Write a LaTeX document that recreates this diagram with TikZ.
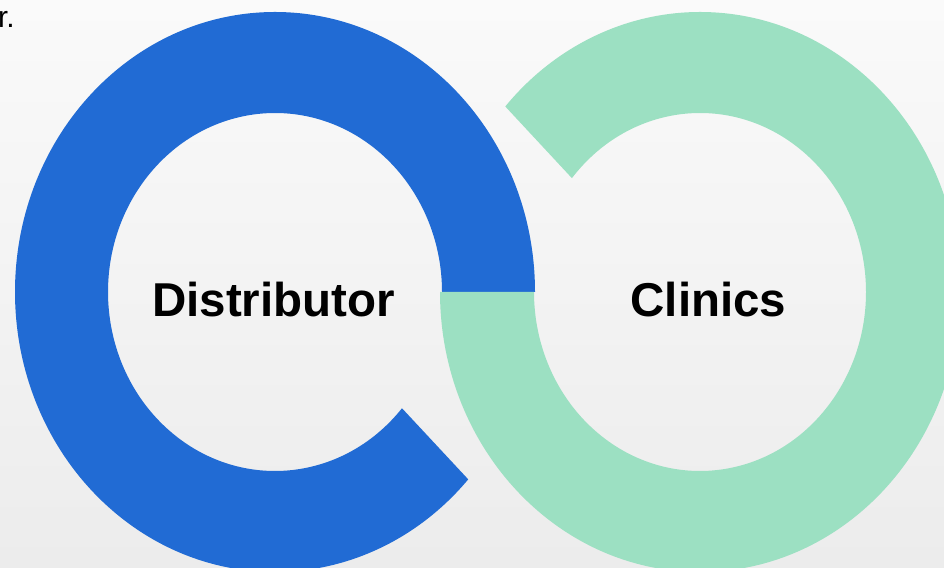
\documentclass[tikz,border=0pt]{standalone}
\usepackage{fontspec}
\setmainfont{Liberation Sans}
\usetikzlibrary{calc}
\definecolor{bgtop}{RGB}{250,250,250}
\definecolor{bgbot}{RGB}{236,236,236}
\definecolor{ringblue}{RGB}{33,107,212}
\definecolor{ringgreen}{RGB}{156,224,194}
\tikzset{
  ringlabel/.style={inner sep=0pt, anchor=base, font=\fontsize{47.5}{56}\selectfont\bfseries, text=black},
}
\begin{document}
\begin{tikzpicture}[x=1pt,y=1pt]
\useasboundingbox (0,0) rectangle (944,567);
\clip (0,0) rectangle (944,567);
\shade[top color=bgtop, bottom color=bgbot] (0,0) rectangle (944,567);
\coordinate (bc) at (275,275);
\coordinate (gc) at (700,275);
% blue ring
\fill[ringblue] ($(bc)+(0:260pt and 280pt)$)
  arc[start angle=0, end angle=318, x radius=260pt, y radius=280pt]
  -- ($(bc)+(319.5:167pt and 179pt)$)
  arc[start angle=319.5, end angle=0, x radius=167pt, y radius=179pt]
  -- cycle;
% green ring
\fill[ringgreen] ($(gc)+(180:260pt and 280pt)$)
  arc[start angle=180, end angle=498.5, x radius=260pt, y radius=280pt]
  -- ($(gc)+(500.5:166pt and 179pt)$)
  arc[start angle=500.5, end angle=180, x radius=166pt, y radius=179pt]
  -- cycle;
\node[ringlabel] (dist) at (273.5,250) {Distributor};
\node[ringlabel] (clin) at (708.5,250) {Clinics};
\node[inner sep=0pt, anchor=base east, font=\fontsize{30}{36}\selectfont] (tl) at (15,539) {r.};
\end{tikzpicture}
\end{document}
